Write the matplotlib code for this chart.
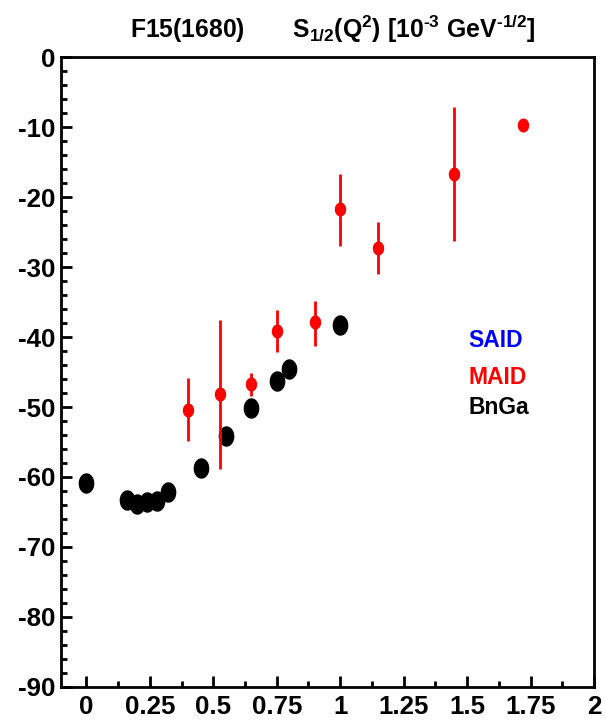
import numpy as np
import matplotlib
matplotlib.use("Agg")
import matplotlib.pyplot as plt
from matplotlib.path import Path
from matplotlib.ticker import MultipleLocator, FuncFormatter
from matplotlib import font_manager

# BnGa points (black)
bnga_q2 = [0.0, 0.16, 0.20, 0.24, 0.28, 0.32, 0.45, 0.55, 0.65, 0.75, 0.80, 1.0]
bnga_s12 = [-60.8, -63.3, -63.9, -63.6, -63.4, -62.2, -58.7, -54.1, -50.1, -46.3, -44.5, -38.3]

# MAID points (red) with asymmetric errors
maid_q2 = [0.40, 0.525, 0.65, 0.75, 0.90, 1.0, 1.15, 1.45, 1.72]
maid_s12 = [-50.4, -48.2, -46.75, -39.1, -37.9, -21.7, -27.3, -16.7, -9.65]
maid_err_hi = [4.5, 10.6, 1.65, 3.0, 3.1, 5.0, 3.7, 9.6, 0.0]
maid_err_lo = [4.4, 10.7, 1.65, 3.0, 3.3, 5.2, 3.7, 9.5, 0.0]

legend_labels = ["SAID", "MAID", "BnGa"]
legend_colors = ["#0000ff", "#ff0000", "#000000"]
legend_y = [-41.4, -46.75, -51.0]

names = {f.name for f in font_manager.fontManager.ttflist}
fam = "Liberation Sans Narrow" if "Liberation Sans Narrow" in names else "Liberation Sans"

plt.rcParams["font.family"] = [fam, "DejaVu Sans"]
plt.rcParams["font.weight"] = "bold"
plt.rcParams["axes.unicode_minus"] = False
plt.rcParams["mathtext.fontset"] = "custom"
plt.rcParams["mathtext.rm"] = fam
plt.rcParams["mathtext.bf"] = fam + ":bold"
plt.rcParams["mathtext.it"] = fam + ":bold"


def ellipse(ratio):
    th = np.linspace(0, 2 * np.pi, 64)
    return Path(np.column_stack([ratio * np.cos(th), np.sin(th)]), closed=True)


fig = plt.figure(figsize=(6.06, 7.2), dpi=100)
ax = fig.add_axes([0.1007, 0.04625, 0.8795, 0.8739])

ax.plot(bnga_q2, bnga_s12, linestyle="none", marker=ellipse(0.75),
        markersize=13.7, color="black", zorder=3)

ax.errorbar(maid_q2, maid_s12, yerr=[maid_err_lo, maid_err_hi], fmt="none",
            ecolor="#ff0000", elinewidth=2.0, capsize=0, zorder=4)
ax.plot(maid_q2, maid_s12, linestyle="none", marker=ellipse(0.79),
        markersize=9.1, color="#ff0000", zorder=5)

for lab, col, yy in zip(legend_labels, legend_colors, legend_y):
    ax.text(1.505, yy, lab, color=col, fontsize=16.5, fontweight="bold",
            ha="left", va="baseline")

ax.set_xlim(-0.1, 2.0)
ax.set_ylim(-90, 0)

ax.xaxis.set_major_locator(MultipleLocator(0.25))
ax.xaxis.set_minor_locator(MultipleLocator(0.125))
ax.yaxis.set_major_locator(MultipleLocator(10))
ax.yaxis.set_minor_locator(MultipleLocator(2))
ax.xaxis.set_major_formatter(FuncFormatter(lambda v, p: f"{v:g}"))
ax.yaxis.set_major_formatter(FuncFormatter(lambda v, p: f"{v:g}"))

ax.tick_params(which="major", direction="in", length=8, width=2,
               top=False, right=False, labelsize=18.6)
ax.tick_params(which="minor", direction="in", length=4, width=2,
               top=False, right=False)
ax.tick_params(axis="y", pad=4)
ax.tick_params(axis="x", pad=6)
for lbl in ax.get_xticklabels() + ax.get_yticklabels():
    lbl.set_fontweight("bold")

for sp in ax.spines.values():
    sp.set_linewidth(2.0)

title = ("F15(1680)       $\\mathbf{S_{1/2}(Q^{2})}$ $\\mathrm{[}$"
         "$\\mathbf{10^{\u20103}\\ GeV^{\u20101/2}}$$\\mathrm{]}$")
fig.text(0.55, 0.947, title, fontsize=17.8, fontweight="bold",
         ha="center", va="baseline")

fig.savefig("out.png", dpi=100)
